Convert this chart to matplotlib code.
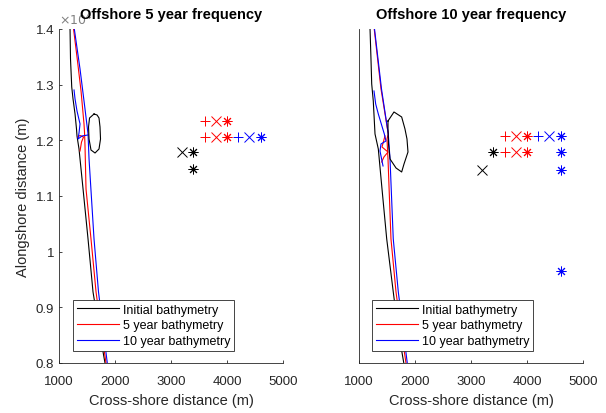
import matplotlib
matplotlib.use("Agg")
import matplotlib.pyplot as plt

plt.rcParams["font.family"] = ["Liberation Sans", "DejaVu Sans"]

AX_COLOR = "#262626"

# cross-shore (m) / alongshore (m) traces
# --- left panel: offshore 5 year frequency ---
l_init_x = [1196, 1205, 1227, 1250, 1286, 1312, 1321, 1357, 1429, 1518, 1607, 1714, 1821]
l_init_y = [14036, 13461, 12958, 12743, 12473, 12204, 12078, 11844, 11126, 10228, 9276, 8611, 8000]
l_5yr_x = [1255, 1321, 1393, 1446, 1455, 1464, 1482, 1571, 1661, 1750, 1839]
l_5yr_y = [14036, 13497, 12886, 12294, 12150, 11900, 11126, 10228, 9276, 8611, 8000]
l_10yr_x = [1268, 1375, 1464, 1518, 1536, 1625, 1705, 1786, 1862]
l_10yr_y = [14036, 13281, 12563, 12114, 11665, 10228, 9276, 8611, 8000]
l_5yr_in_x = [1334, 1375, 1438, 1402, 1375]
l_5yr_in_y = [12060, 12087, 12060, 11970, 11808]
l_10yr_in_x = [1268, 1286, 1321, 1375, 1357, 1339, 1411, 1518]
l_10yr_in_y = [12904, 12743, 12527, 12294, 12132, 12024, 12078, 12096]
l_loop_x = [1625, 1679, 1714, 1732, 1741, 1714, 1643, 1571, 1536, 1527, 1545, 1625]
l_loop_y = [12473, 12455, 12401, 12240, 12024, 11844, 11772, 11826, 12024, 12240, 12401, 12473]

# --- right panel: offshore 10 year frequency ---
r_init_x = [1196, 1214, 1227, 1255, 1286, 1345, 1411, 1495, 1612, 1696, 1800]
r_init_y = [14036, 13461, 13012, 12707, 12114, 11844, 11126, 10228, 9276, 8611, 8000]
r_5yr_x = [1268, 1393, 1523, 1500, 1518, 1571, 1661, 1750, 1839]
r_5yr_y = [14036, 12922, 12114, 12024, 11665, 10228, 9276, 8611, 8000]
r_10yr_x = [1273, 1402, 1523, 1554, 1612, 1702, 1786, 1862]
r_10yr_y = [14036, 12922, 12114, 11665, 10228, 9276, 8611, 8000]
r_5yr_in_x = [1464, 1411, 1518, 1446, 1405]
r_5yr_in_y = [12078, 11880, 11790, 11701, 11611]
r_10yr_in_x = [1268, 1298, 1345, 1452, 1482, 1393, 1375, 1429]
r_10yr_in_y = [12886, 12653, 12473, 12114, 11988, 11934, 11808, 11539]
r_loop_x = [1518, 1625, 1762, 1821, 1857, 1875, 1804, 1762, 1661, 1554, 1527, 1518, 1518]
r_loop_y = [12347, 12509, 12419, 12204, 12024, 11790, 11575, 11431, 11503, 11665, 11934, 12204, 12347]

# point markers (x, y) per colour / symbol
l_pts = {
    ("r", "+"): ([3600, 3600], [12350, 12055]),
    ("r", "x"): ([3800, 3800], [12350, 12055]),
    ("r", "*"): ([4000, 4000], [12350, 12055]),
    ("b", "+"): ([4200], [12055]),
    ("b", "x"): ([4400], [12055]),
    ("b", "*"): ([4600], [12055]),
    ("k", "x"): ([3200], [11796]),
    ("k", "*"): ([3400, 3400], [11796, 11485]),
}
r_pts = {
    ("r", "+"): ([3600, 3600], [12083, 11796]),
    ("r", "x"): ([3800, 3800], [12083, 11796]),
    ("r", "*"): ([4000, 4000], [12083, 11796]),
    ("b", "+"): ([4200], [12083]),
    ("b", "x"): ([4400], [12083]),
    ("b", "*"): ([4600, 4600, 4600, 4600], [12083, 11796, 11473, 9650]),
    ("k", "*"): ([3400], [11796]),
    ("k", "x"): ([3200], [11473]),
}

xticks = [1000, 2000, 3000, 4000, 5000]
yticks = [8000, 9000, 10000, 11000, 12000, 13000, 14000]
ytick_labels = ["0.8", "0.9", "1", "1.1", "1.2", "1.3", "1.4"]
legend_labels = ["Initial bathymetry", "5 year bathymetry", "10 year bathymetry"]

MARKERS = {"+": "+", "x": "x", "*": (8, 2, 0)}


def draw_panel(ax, mains, inners, loop, pts, title, leg_anchor):
    handles = []
    for (x, y), c, lab in zip(mains, ["k", "r", "b"], legend_labels):
        h, = ax.plot(x, y, color=c, lw=0.8, label=lab)
        handles.append(h)
    for (x, y), c in inners:
        ax.plot(x, y, color=c, lw=0.8)
    ax.plot(loop[0], loop[1], color="k", lw=0.8)
    for (c, m), (x, y) in pts.items():
        ax.plot(x, y, ls="none", marker=MARKERS[m], color=c, ms=7, mew=0.7)
    ax.set_xlim(1000, 5000)
    ax.set_ylim(8000, 14000)
    ax.set_xticks(xticks)
    ax.set_yticks(yticks)
    ax.spines[["top", "right"]].set_visible(False)
    for s in ["left", "bottom"]:
        ax.spines[s].set_color(AX_COLOR)
        ax.spines[s].set_linewidth(0.6)
    ax.tick_params(direction="in", length=2.5, width=0.6, colors=AX_COLOR,
                   labelsize=9.5, labelcolor=AX_COLOR)
    ax.tick_params(axis="x", pad=9)
    ax.set_title(title, fontsize=10.5, fontweight="bold", pad=8)
    ax.set_xlabel("Cross-shore distance (m)", fontsize=10.5, color=AX_COLOR, labelpad=4)
    leg = ax.legend(handles=handles, loc="lower left", bbox_to_anchor=leg_anchor,
                    borderaxespad=0, fontsize=9, fancybox=False, framealpha=1,
                    edgecolor=AX_COLOR, handlelength=3.4, handletextpad=0.3,
                    labelspacing=0.3, borderpad=0.3)
    leg.get_frame().set_linewidth(0.6)


fig = plt.figure(figsize=(6.06, 4.14), dpi=100)
ax1 = fig.add_axes([0.0974, 0.1208, 0.3696, 0.8068])
ax2 = fig.add_axes([0.5924, 0.1208, 0.3696, 0.8068])

draw_panel(ax1,
           [(l_init_x, l_init_y), (l_5yr_x, l_5yr_y), (l_10yr_x, l_10yr_y)],
           [((l_5yr_in_x, l_5yr_in_y), "r"), ((l_10yr_in_x, l_10yr_in_y), "b")],
           (l_loop_x, l_loop_y), l_pts, "Offshore 5 year frequency", (0.0625, 0.036))
ax1.set_yticklabels(ytick_labels)
ax1.set_ylabel("Alongshore distance (m)", fontsize=10.5, color=AX_COLOR, labelpad=4)
ax1.text(0.0, 1.005, r"$\times10^{4}$", transform=ax1.transAxes, fontsize=9,
         color="#808080", ha="left", va="bottom")

draw_panel(ax2,
           [(r_init_x, r_init_y), (r_5yr_x, r_5yr_y), (r_10yr_x, r_10yr_y)],
           [((r_5yr_in_x, r_5yr_in_y), "r"), ((r_10yr_in_x, r_10yr_in_y), "b")],
           (r_loop_x, r_loop_y), r_pts, "Offshore 10 year frequency", (0.058, 0.036))
ax2.tick_params(axis="y", left=False, labelleft=False)

fig.savefig("out.png", dpi=100)
